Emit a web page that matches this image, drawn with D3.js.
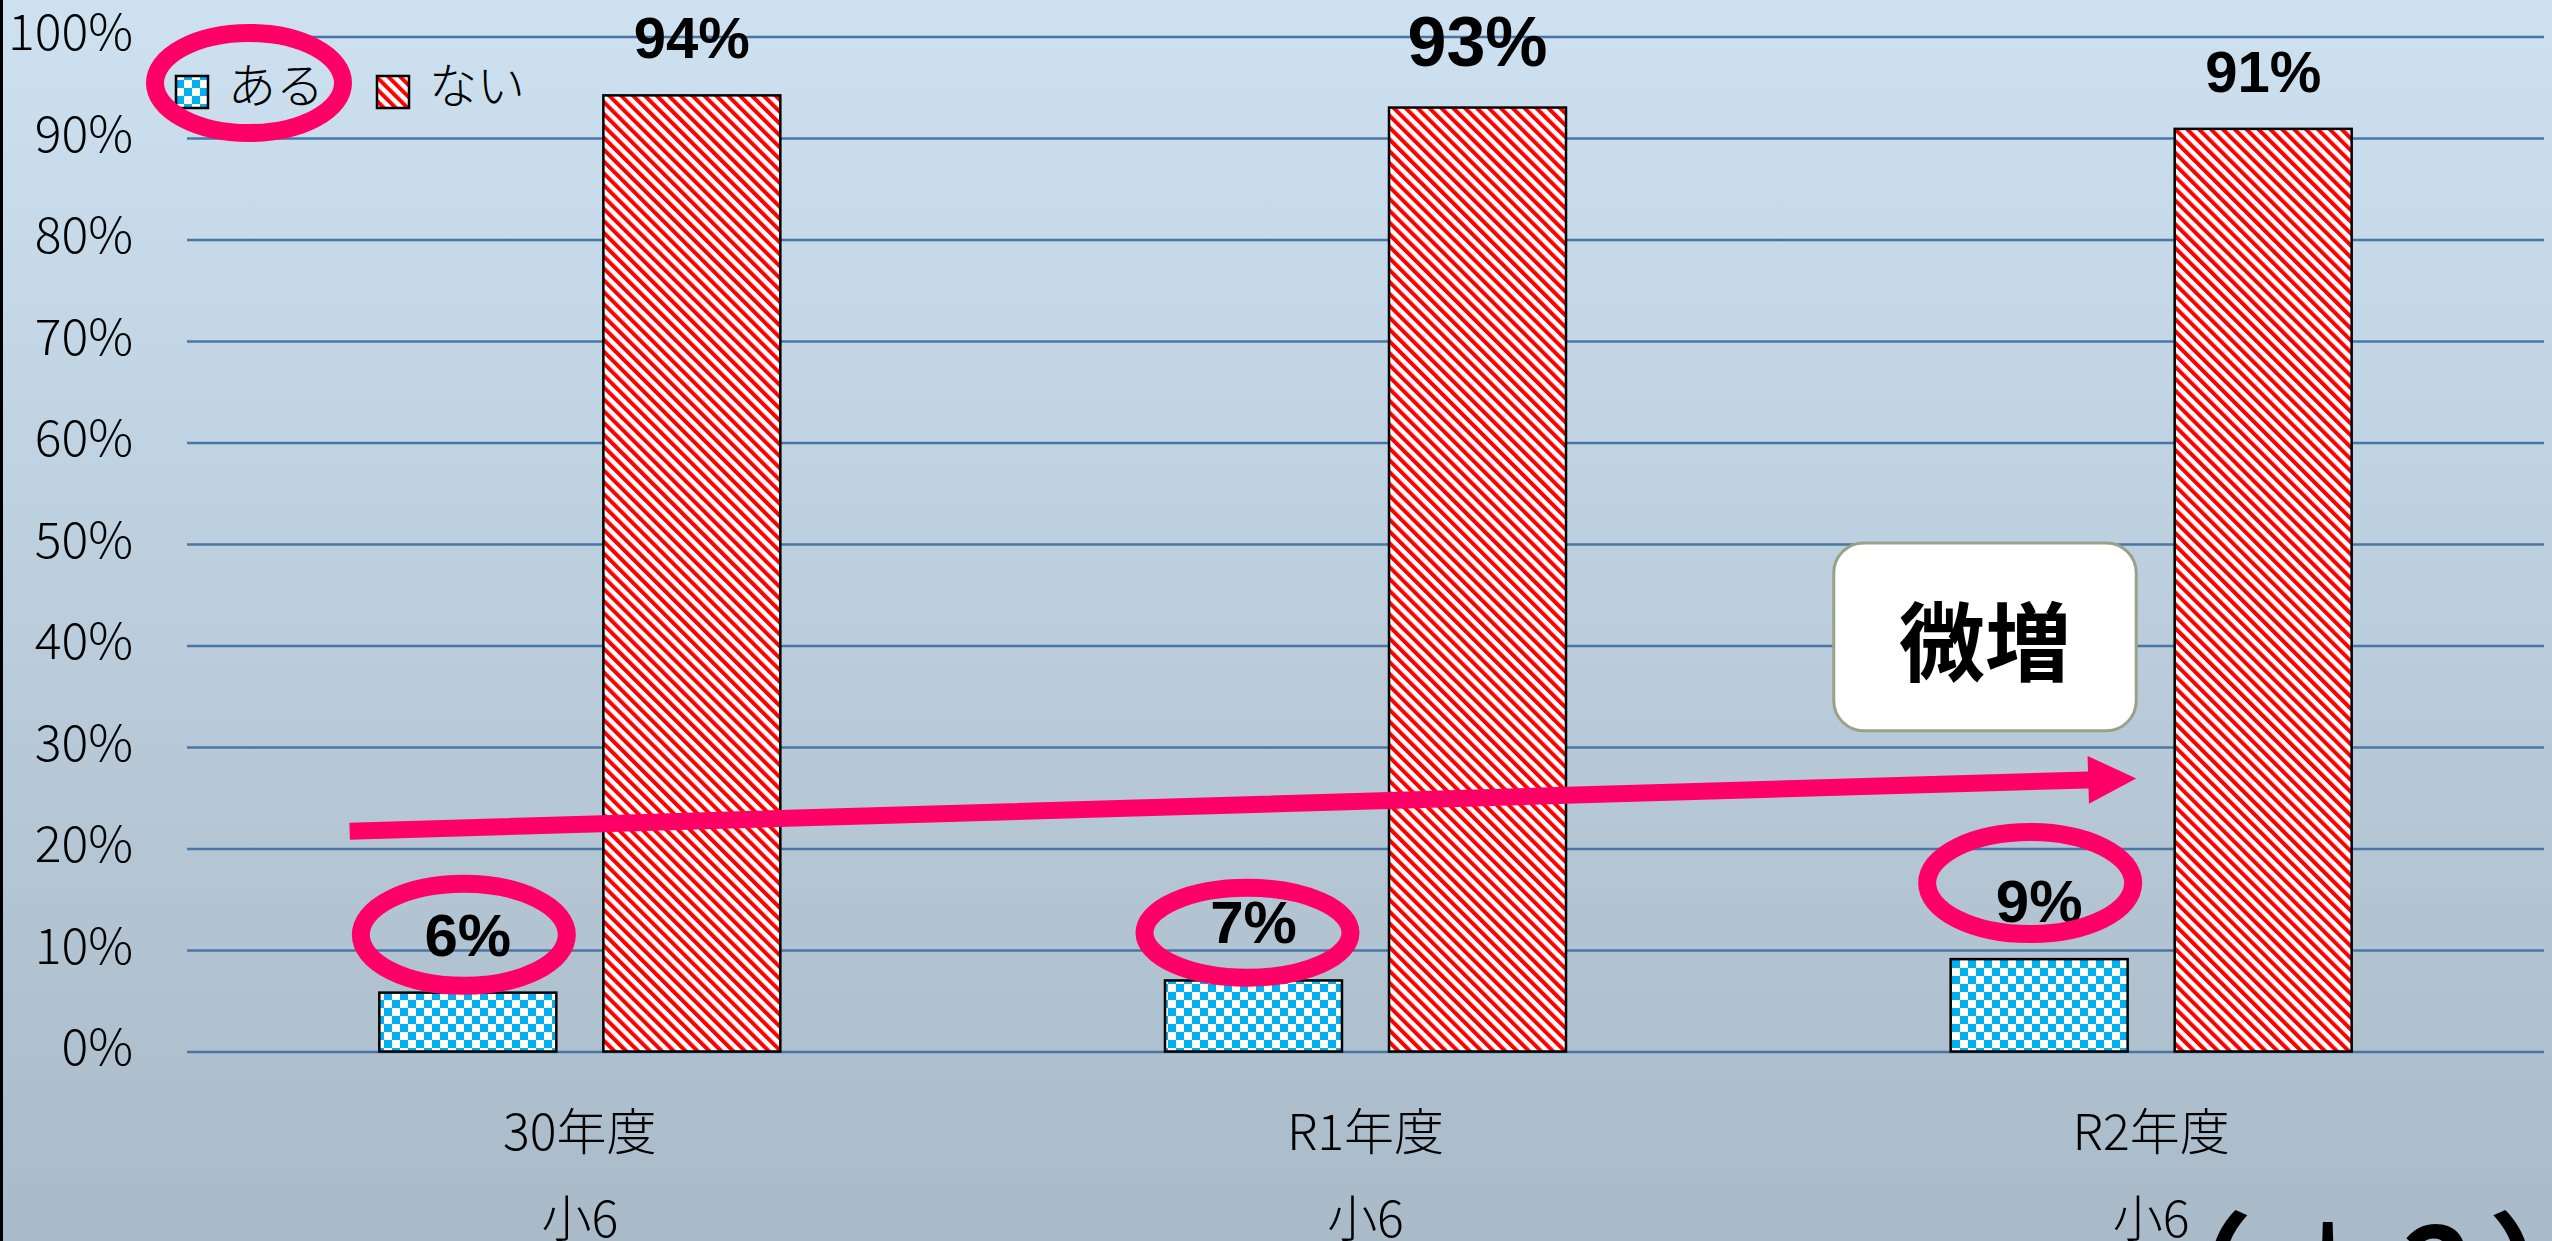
<!DOCTYPE html>
<html>
<head>
<meta charset="utf-8">
<script src="https://cdn.jsdelivr.net/npm/d3@7"></script>
<style>
html, body { margin: 0; padding: 0; overflow: hidden; }
svg { display: block; }
text { font-family: "Noto Sans CJK JP", "Noto Sans", sans-serif; }
</style>
</head>
<body>
<script>
var categories = ["30年度", "R1年度", "R2年度"];
var grades = ["小6", "小6", "小6"];
var seriesNames = ["ある", "ない"];
var aruValues = [5.8, 7.0, 9.1];
var naiValues = [94.2, 93.0, 90.9];
var yTicks = [0, 10, 20, 30, 40, 50, 60, 70, 80, 90, 100];
var noteText = "微増";
var footText = "（＊2）";

var width = 2552, height = 1241;
var plot = {left: 187, right: 2544, top: 36.5, bottom: 1051.5};
var pink = "#ff0066", gridColor = "#4a76a2";
var numFont = '"Liberation Sans Narrow", "Liberation Sans", sans-serif';

var svg = d3.select("body").append("svg")
    .attr("width", width)
    .attr("height", height);

var defs = svg.append("defs");

var bg = defs.append("linearGradient").attr("id", "bg")
    .attr("x1", 0).attr("y1", 0).attr("x2", 0).attr("y2", 1);
bg.append("stop").attr("offset", 0).attr("stop-color", "#cde1f0");
bg.append("stop").attr("offset", 1).attr("stop-color", "#a9bac8");

// small checkerboard for ある
var checker = defs.append("pattern").attr("id", "checker")
    .attr("patternUnits", "userSpaceOnUse")
    .attr("width", 16).attr("height", 16);
checker.append("rect").attr("width", 16).attr("height", 16).attr("fill", "#fff");
checker.append("rect").attr("width", 8).attr("height", 8).attr("fill", "#00b0f0");
checker.append("rect").attr("x", 8).attr("y", 8).attr("width", 8).attr("height", 8).attr("fill", "#00b0f0");

// diagonal stripes for ない
var stripes = defs.append("pattern").attr("id", "stripes")
    .attr("patternUnits", "userSpaceOnUse")
    .attr("width", 8.4).attr("height", 8.4)
    .attr("patternTransform", "rotate(-45)");
stripes.append("rect").attr("width", 8.4).attr("height", 8.4).attr("fill", "#fff");
stripes.append("rect").attr("width", 4).attr("height", 8.4).attr("fill", "#ff0000");

var fills = {"ある": "url(#checker)", "ない": "url(#stripes)"};

svg.append("rect").attr("width", width).attr("height", height).attr("fill", "url(#bg)");
svg.append("rect").attr("width", 3).attr("height", height).attr("fill", "#000");

var x0 = d3.scaleBand().domain(categories).range([plot.left, plot.right]);
var bw = x0.bandwidth();
var x1 = d3.scaleBand().domain(seriesNames)
    .range([(bw - 401) / 2, (bw + 401) / 2])
    .paddingInner(0.21);
var y = d3.scaleLinear().domain([0, 100]).range([plot.bottom, plot.top]);

// gridlines
svg.append("g")
    .attr("transform", "translate(" + plot.left + ",0)")
    .call(d3.axisLeft(y).tickValues(yTicks).tickSize(-(plot.right - plot.left)).tickFormat(""))
    .call(function(g) {
        g.select(".domain").remove();
        g.selectAll("line").attr("stroke", gridColor).attr("stroke-width", 2.5);
    });

// y tick labels
svg.append("g")
    .attr("transform", "translate(" + plot.left + ",0)")
    .call(d3.axisLeft(y).tickValues(yTicks).tickSize(0).tickPadding(54)
        .tickFormat(function(d) { return d + "%"; }))
    .call(function(g) {
        g.select(".domain").remove();
        g.selectAll("text")
            .attr("dy", "0.26em")
            .attr("fill", "#000")
            .style("font-family", '"Noto Sans CJK JP", sans-serif')
            .style("font-weight", 300)
            .style("font-size", "50px");
    });

// category axis (two lines)
var xAxis = svg.append("g")
    .attr("transform", "translate(0," + plot.bottom + ")")
    .call(d3.axisBottom(x0).tickSize(0).tickPadding(0))
    .call(function(g) { g.select(".domain").remove(); });
xAxis.selectAll("text")
    .attr("y", 98).attr("dy", 0)
    .attr("fill", "#000")
    .style("font-weight", 300)
    .style("font-size", "50px");
xAxis.selectAll(".tick").append("text")
    .attr("y", 185)
    .attr("fill", "#000")
    .attr("text-anchor", "middle")
    .style("font-weight", 300)
    .style("font-size", "50px")
    .text(function(d, i) { return grades[i]; });

var rows = [];
categories.forEach(function(c, i) {
    rows.push({cat: c, idx: i, key: "ある", value: aruValues[i]});
    rows.push({cat: c, idx: i, key: "ない", value: naiValues[i]});
});

svg.append("g").selectAll("rect").data(rows).enter().append("rect")
    .attr("x", function(d) { return x0(d.cat) + x1(d.key); })
    .attr("y", function(d) { return y(d.value); })
    .attr("width", x1.bandwidth())
    .attr("height", function(d) { return y(0) - y(d.value); })
    .attr("fill", function(d) { return fills[d.key]; })
    .attr("stroke", "#000")
    .attr("stroke-width", 2.5);

function labelSize(d) {
    if (d.key === "ない" && d.idx === 1) return 70;
    return d.key === "ある" ? 60 : 58;
}

svg.append("g").selectAll("text").data(rows).enter().append("text")
    .attr("x", function(d) { return x0(d.cat) + x1(d.key) + x1.bandwidth() / 2; })
    .attr("y", function(d) { return y(d.value) - (d.idx === 1 && d.key === "ない" ? 42 : 37); })
    .attr("text-anchor", "middle")
    .style("font-family", numFont)
    .style("font-weight", "bold")
    .style("font-size", function(d) { return labelSize(d) + "px"; })
    .text(function(d) { return Math.round(d.value) + "%"; });

// legend
var legend = svg.append("g");
var legendX = [176, 377];
seriesNames.forEach(function(s, i) {
    legend.append("rect")
        .attr("x", legendX[i]).attr("y", 76)
        .attr("width", 32).attr("height", 32)
        .attr("fill", fills[s]).attr("stroke", "#000").attr("stroke-width", 2.5);
    legend.append("text")
        .attr("x", legendX[i] + 52).attr("y", 103)
        .style("font-weight", 300)
        .style("font-size", "48px")
        .text(s);
});

// annotations: rings, arrow, note box
var rings = svg.append("g").attr("fill", "none").attr("stroke", pink).attr("stroke-width", 18);
rings.append("ellipse").attr("cx", 249).attr("cy", 83).attr("rx", 94).attr("ry", 50);
var ringPos = [{v: 11.5, dx: -4, ry: 51}, {v: 11.7, dx: -6, ry: 45}, {v: 16.6, dx: -9, ry: 51}];
ringPos.forEach(function(r, i) {
    rings.append("ellipse")
        .attr("cx", x0(categories[i]) + x1("ある") + x1.bandwidth() / 2 + r.dx)
        .attr("cy", y(r.v))
        .attr("rx", 103).attr("ry", r.ry);
});

var p0 = [x0(categories[0]) + 0.207 * bw, y(21.7)],
    p1 = [x0(categories[2]) + 0.481 * bw, y(26.9)];
var dx = p1[0] - p0[0], dy = p1[1] - p0[1], len = Math.sqrt(dx * dx + dy * dy);
var ux = dx / len, uy = dy / len, nx = -uy, ny = ux;
var shaft = 8.5, head = 24, headLen = 48;
var bx = p1[0] - ux * headLen, by = p1[1] - uy * headLen;
var arrowPts = [
    [p0[0] + nx * shaft, p0[1] + ny * shaft],
    [bx + nx * shaft, by + ny * shaft],
    [bx + nx * head, by + ny * head],
    p1,
    [bx - nx * head, by - ny * head],
    [bx - nx * shaft, by - ny * shaft],
    [p0[0] - nx * shaft, p0[1] - ny * shaft]
];
svg.append("path")
    .attr("d", "M" + arrowPts.join("L") + "Z")
    .attr("fill", pink);

var boxL = x0(categories[2]) + 0.096 * bw, boxR = x0(categories[2]) + 0.481 * bw;
svg.append("rect")
    .attr("x", boxL).attr("y", y(50.1))
    .attr("width", boxR - boxL).attr("height", y(31.6) - y(50.1))
    .attr("rx", 30).attr("ry", 30)
    .attr("fill", "#fff").attr("stroke", "#98a28a").attr("stroke-width", 3);
svg.append("text")
    .attr("x", (boxL + boxR) / 2).attr("y", y(40.8))
    .attr("text-anchor", "middle")
    .attr("dominant-baseline", "central")
    .style("font-weight", "bold")
    .style("font-size", "86px")
    .text(noteText);

svg.append("text")
    .attr("x", 2128).attr("y", 1318)
    .style("font-weight", "bold")
    .style("font-size", "125px")
    .style("letter-spacing", "12px")
    .text(footText);
</script>
</body>
</html>
